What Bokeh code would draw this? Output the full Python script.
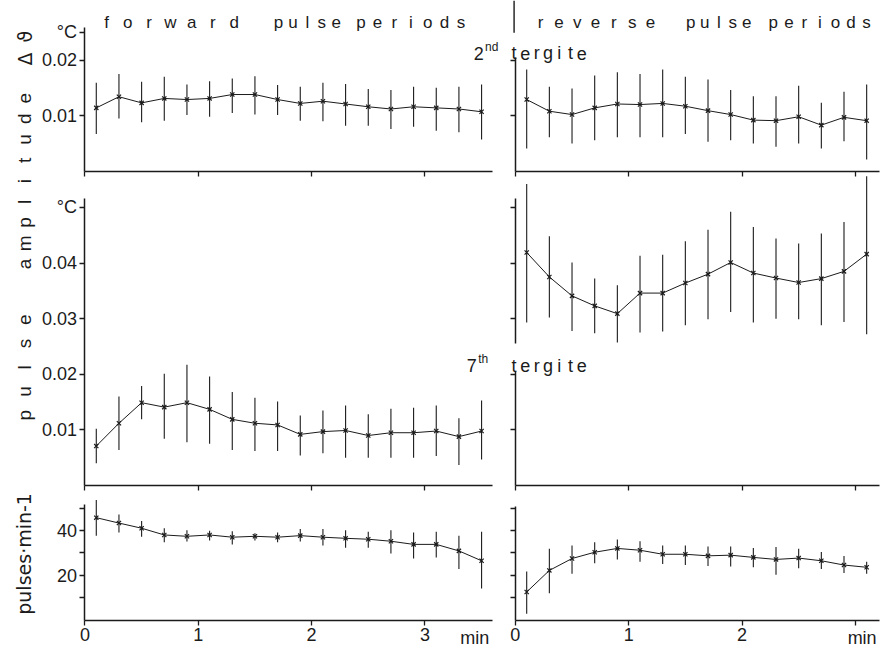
from math import pi
from bokeh.plotting import figure
from bokeh.models import Range1d, LinearAxis, FixedTicker, Label
from bokeh.embed import file_html
from bokeh.resources import INLINE

# ---------------- data ----------------
t_fwd = [0.1, 0.3, 0.5, 0.7, 0.9, 1.1, 1.3, 1.5, 1.7, 1.9, 2.1, 2.3, 2.5, 2.7, 2.9, 3.1, 3.3, 3.5]
t_rev = [0.1, 0.3, 0.5, 0.7, 0.9, 1.1, 1.3, 1.5, 1.7, 1.9, 2.1, 2.3, 2.5, 2.7, 2.9, 3.1]

# pulse amplitude, 2nd tergite, forward pulse periods (deg C)
fwd_2nd_mean = [0.0114, 0.0134, 0.0123, 0.0131, 0.0129, 0.0131, 0.0138, 0.0138, 0.0129,
                0.0122, 0.0126, 0.0121, 0.0116, 0.0112, 0.0116, 0.0114, 0.0112, 0.0107]
fwd_2nd_hi = [0.0159, 0.0175, 0.0161, 0.0170, 0.0156, 0.0162, 0.0167, 0.0171, 0.0155,
              0.0152, 0.0159, 0.0157, 0.0148, 0.0146, 0.0152, 0.0150, 0.0152, 0.0156]
fwd_2nd_lo = [0.0067, 0.0095, 0.0088, 0.0091, 0.0101, 0.0098, 0.0105, 0.0102, 0.0101,
              0.0091, 0.0090, 0.0082, 0.0082, 0.0076, 0.0080, 0.0073, 0.0070, 0.0057]

# pulse amplitude, 2nd tergite, reverse pulse periods
rev_2nd_mean = [0.0129, 0.0108, 0.0102, 0.0114, 0.0121, 0.0120, 0.0122, 0.0117,
                0.0109, 0.0102, 0.0092, 0.0091, 0.0098, 0.0083, 0.0097, 0.0091]
rev_2nd_hi = [0.0183, 0.0152, 0.0149, 0.0172, 0.0178, 0.0175, 0.0183, 0.0170,
              0.0165, 0.0146, 0.0135, 0.0135, 0.0154, 0.0123, 0.0143, 0.0156]
rev_2nd_lo = [0.0041, 0.0061, 0.0050, 0.0056, 0.0061, 0.0061, 0.0061, 0.0067,
              0.0053, 0.0056, 0.0050, 0.0044, 0.0050, 0.0041, 0.0054, 0.0021]

# pulse amplitude, 7th tergite, forward pulse periods
fwd_7th_mean = [0.0071, 0.0112, 0.0149, 0.0141, 0.0149, 0.0137, 0.0119, 0.0112, 0.0109,
                0.0092, 0.0097, 0.0099, 0.0090, 0.0095, 0.0095, 0.0098, 0.0088, 0.0098]
fwd_7th_hi = [0.0102, 0.0160, 0.0179, 0.0201, 0.0217, 0.0196, 0.0168, 0.0158, 0.0151,
              0.0126, 0.0135, 0.0144, 0.0128, 0.0138, 0.0140, 0.0144, 0.0121, 0.0153]
fwd_7th_lo = [0.0040, 0.0064, 0.0119, 0.0084, 0.0078, 0.0075, 0.0064, 0.0062, 0.0062,
              0.0054, 0.0058, 0.0050, 0.0050, 0.0050, 0.0050, 0.0053, 0.0037, 0.0047]

# pulse amplitude, 7th tergite, reverse pulse periods (broken axis, upper part)
rev_7th_mean = [0.0419, 0.0375, 0.0341, 0.0323, 0.0309, 0.0346, 0.0346, 0.0364,
                0.0380, 0.0401, 0.0382, 0.0373, 0.0365, 0.0372, 0.0385, 0.0416]
rev_7th_hi = [0.0542, 0.0448, 0.0401, 0.0372, 0.0360, 0.0413, 0.0415, 0.0439,
              0.0460, 0.0492, 0.0465, 0.0444, 0.0435, 0.0453, 0.0474, 0.0556]
rev_7th_lo = [0.0293, 0.0302, 0.0278, 0.0274, 0.0257, 0.0275, 0.0277, 0.0288,
              0.0299, 0.0312, 0.0293, 0.0300, 0.0299, 0.0288, 0.0294, 0.0272]

# pulses per minute
fwd_rate_mean = [45.7, 43.3, 41.0, 38.0, 37.4, 38.0, 37.0, 37.4, 37.0,
                 37.7, 37.0, 36.5, 36.1, 35.2, 33.8, 33.8, 30.9, 26.5]
fwd_rate_hi = [53.6, 47.1, 44.2, 41.0, 40.1, 39.9, 39.6, 38.8, 39.1,
               40.6, 40.6, 40.1, 39.4, 40.1, 39.1, 39.4, 37.7, 39.4]
fwd_rate_lo = [37.7, 39.1, 37.2, 34.8, 35.1, 35.5, 33.8, 35.5, 34.8,
               35.1, 33.3, 32.3, 32.3, 29.7, 27.5, 28.0, 22.8, 14.1]

rev_rate_mean = [12.6, 22.2, 27.5, 30.3, 32.0, 31.2, 29.4, 29.4,
                 28.7, 29.0, 28.0, 27.1, 27.7, 26.5, 24.6, 23.6]
rev_rate_hi = [21.7, 31.9, 33.3, 34.8, 36.0, 35.2, 33.3, 33.3,
               32.9, 32.9, 32.2, 32.6, 31.9, 30.4, 28.6, 26.1]
rev_rate_lo = [2.9, 12.0, 20.7, 25.4, 27.1, 26.1, 25.1, 24.6,
               24.2, 23.9, 23.6, 20.3, 23.2, 22.8, 21.0, 20.7]

x_ticks = [0, 1, 2, 3]
amp_ticks_top = [0.01, 0.02, 0.025]
amp_labels_top = {0.01: "0.01", 0.02: "0.02", 0.025: "°C"}
amp_ticks_mid = [0.01, 0.02, 0.03, 0.04, 0.05]
amp_labels_mid = {0.01: "0.01", 0.02: "0.02", 0.03: "0.03", 0.04: "0.04", 0.05: "°C"}
rate_ticks = [10, 20, 30, 40, 50]
rate_labels = {10: "", 20: "20", 30: "", 40: "40", 50: ""}

# ---------------- layout geometry (canvas pixels) ----------------
W, H = 880, 647
SX, SY = 0.982, 0.976


def cx(x):
    return x * SX


def cy(y):
    return y * SY


LX0, RX0 = cx(86), cx(524.3)
PPM = 115.4 * SX
YA0, YB0, YC0 = cy(175), cy(497), cy(635)
PPV = 5700 * SY
PPC = 2.3 * SY

INK = "#1b1b1b"
FONT = "Liberation Sans"

p = figure(width=W, height=H, x_range=Range1d(0, W), y_range=Range1d(H, 0),
           x_axis_location=None, y_axis_location=None, toolbar_location=None,
           output_backend="svg", title=None,
           min_border_left=0, min_border_right=0, min_border_top=0, min_border_bottom=0)
p.outline_line_color = None
p.xgrid.visible = False
p.ygrid.visible = False
p.background_fill_color = "white"

p.extra_x_ranges = {
    "L": Range1d(-LX0 / PPM, (W - LX0) / PPM),
    "R": Range1d(-RX0 / PPM, (W - RX0) / PPM),
}
p.extra_y_ranges = {
    "A": Range1d(-(H - YA0) / PPV, YA0 / PPV),
    "B": Range1d(-(H - YB0) / PPV, YB0 / PPV),
    "C": Range1d(-(H - YC0) / PPC, YC0 / PPC),
}
R_END = (W - RX0) / PPM - 0.005


def add_axis(side, xr, yr, bounds, ticks, labels=None):
    ax = LinearAxis(x_range_name=xr, y_range_name=yr, fixed_location=0, bounds=bounds,
                    ticker=FixedTicker(ticks=ticks, minor_ticks=[]))
    ax.axis_line_color = INK
    ax.axis_line_width = 1.5
    ax.major_tick_line_color = INK
    ax.major_tick_line_width = 1.3
    ax.major_tick_in = 0
    ax.major_tick_out = 5
    ax.minor_tick_line_color = None
    ax.major_label_standoff = 3
    ax.major_label_text_font = FONT
    ax.major_label_text_font_size = "18px"
    ax.major_label_text_color = INK
    if labels is None:
        ax.major_label_text_color = None
    else:
        ax.major_label_overrides = labels
    p.add_layout(ax, side)


# top row (2nd tergite)
add_axis("left", "L", "A", (0, 0.0258), amp_ticks_top, amp_labels_top)
add_axis("below", "L", "A", (0, 3.6), x_ticks)
add_axis("left", "R", "A", (0, 0.0205), [0.01, 0.02])
add_axis("below", "R", "A", (0, R_END), x_ticks)
# middle row (7th tergite)
add_axis("left", "L", "B", (0, 0.0516), amp_ticks_mid, amp_labels_mid)
add_axis("below", "L", "B", (0, 3.6), x_ticks)
add_axis("left", "R", "B", (0.0255, 0.0516), [0.03, 0.04, 0.05])
add_axis("left", "R", "B", (0, 0.0205), [0.01, 0.02])
add_axis("below", "R", "B", (0, R_END), x_ticks)
# bottom row (pulse rate)
add_axis("left", "L", "C", (0, 51.5), rate_ticks, rate_labels)
add_axis("below", "L", "C", (0, 3.6), x_ticks, {0: "0", 1: "1", 2: "2", 3: "3"})
add_axis("left", "R", "C", (0, 50.5), rate_ticks)
add_axis("below", "R", "C", (0, R_END), x_ticks, {0: "0", 1: "1", 2: "2", 3: ""})


def series(xr, yr, t, mean, lo, hi):
    p.segment(x0=t, y0=lo, x1=t, y1=hi, x_range_name=xr, y_range_name=yr,
              line_color=INK, line_width=1.1)
    p.line(t, mean, x_range_name=xr, y_range_name=yr, line_color=INK, line_width=1.0)
    p.scatter(t, mean, marker="x", size=6, x_range_name=xr, y_range_name=yr,
              line_color=INK, line_width=1.2)


series("L", "A", t_fwd, fwd_2nd_mean, fwd_2nd_lo, fwd_2nd_hi)
series("R", "A", t_rev, rev_2nd_mean, rev_2nd_lo, rev_2nd_hi)
series("L", "B", t_fwd, fwd_7th_mean, fwd_7th_lo, fwd_7th_hi)
series("R", "B", t_rev, rev_7th_mean, rev_7th_lo, rev_7th_hi)
series("L", "C", t_fwd, fwd_rate_mean, fwd_rate_lo, fwd_rate_hi)
series("R", "C", t_rev, rev_rate_mean, rev_rate_lo, rev_rate_hi)


# ---------------- texts ----------------
def label(text, x, y, size, align="left", baseline="alphabetic", angle=0.0, font=FONT):
    p.add_layout(Label(x=x, y=y, text=text, text_font=font, text_font_size=size,
                       text_color=INK, text_align=align, text_baseline=baseline,
                       angle=angle))


def spaced(word, first, last, base, size, rotated=False, font=FONT):
    n = len(word)
    for i, ch in enumerate(word):
        pos = first + (last - first) * (i / (n - 1) if n > 1 else 0)
        if rotated:
            label(ch, cx(base), cy(pos), size, "center", "alphabetic", pi / 2, font)
        else:
            label(ch, cx(pos), cy(base), size, "center", "alphabetic", 0.0, font)


# column headers
spaced("forward", 108, 238, 22.5, "17px")
spaced("pulse", 283, 342, 22.5, "17px")
spaced("periods", 367, 469, 22.5, "17px")
spaced("reverse", 550, 662, 22.5, "17px")
spaced("pulse", 703, 760, 22.5, "17px")
spaced("periods", 787, 882, 22.5, "17px")
p.segment(x0=[cx(523)], y0=[cy(0)], x1=[cx(523)], y1=[cy(33)], line_color=INK, line_width=1.4)

# panel names
label("2", cx(487), cy(54), "18px", "center")
label("nd", cx(493.5), cy(47.5), "12px", "left")
spaced("tergite", 523, 592, 54, "18px")
label("7", cx(480), cy(374), "18px", "center")
label("th", cx(486.5), cy(367.5), "12px", "left")
spaced("tergite", 523, 592, 374, "18px")

# rotated axis titles
spaced("pulse", 425, 327, 24, "19px", rotated=True)
spaced("amplitude", 270, 100, 24, "19px", rotated=True)
spaced("Δϑ", 60, 37, 25, "19px", rotated=True, font="DejaVu Sans")
label("pulses·min-1", cx(24), cy(567), "19px", "center", "alphabetic", pi / 2, "DejaVu Sans")

# time unit
p.add_layout(Label(x=3.44, y=0, x_range_name="L", y_range_name="C", text="min",
                   text_font=FONT, text_font_size="18px", text_color=INK,
                   text_align="center", text_baseline="top", y_offset=-8))
p.add_layout(Label(x=3.06, y=0, x_range_name="R", y_range_name="C", text="min",
                   text_font=FONT, text_font_size="18px", text_color=INK,
                   text_align="center", text_baseline="top", y_offset=-8))

open("out.html", "w").write(file_html(p, INLINE))
